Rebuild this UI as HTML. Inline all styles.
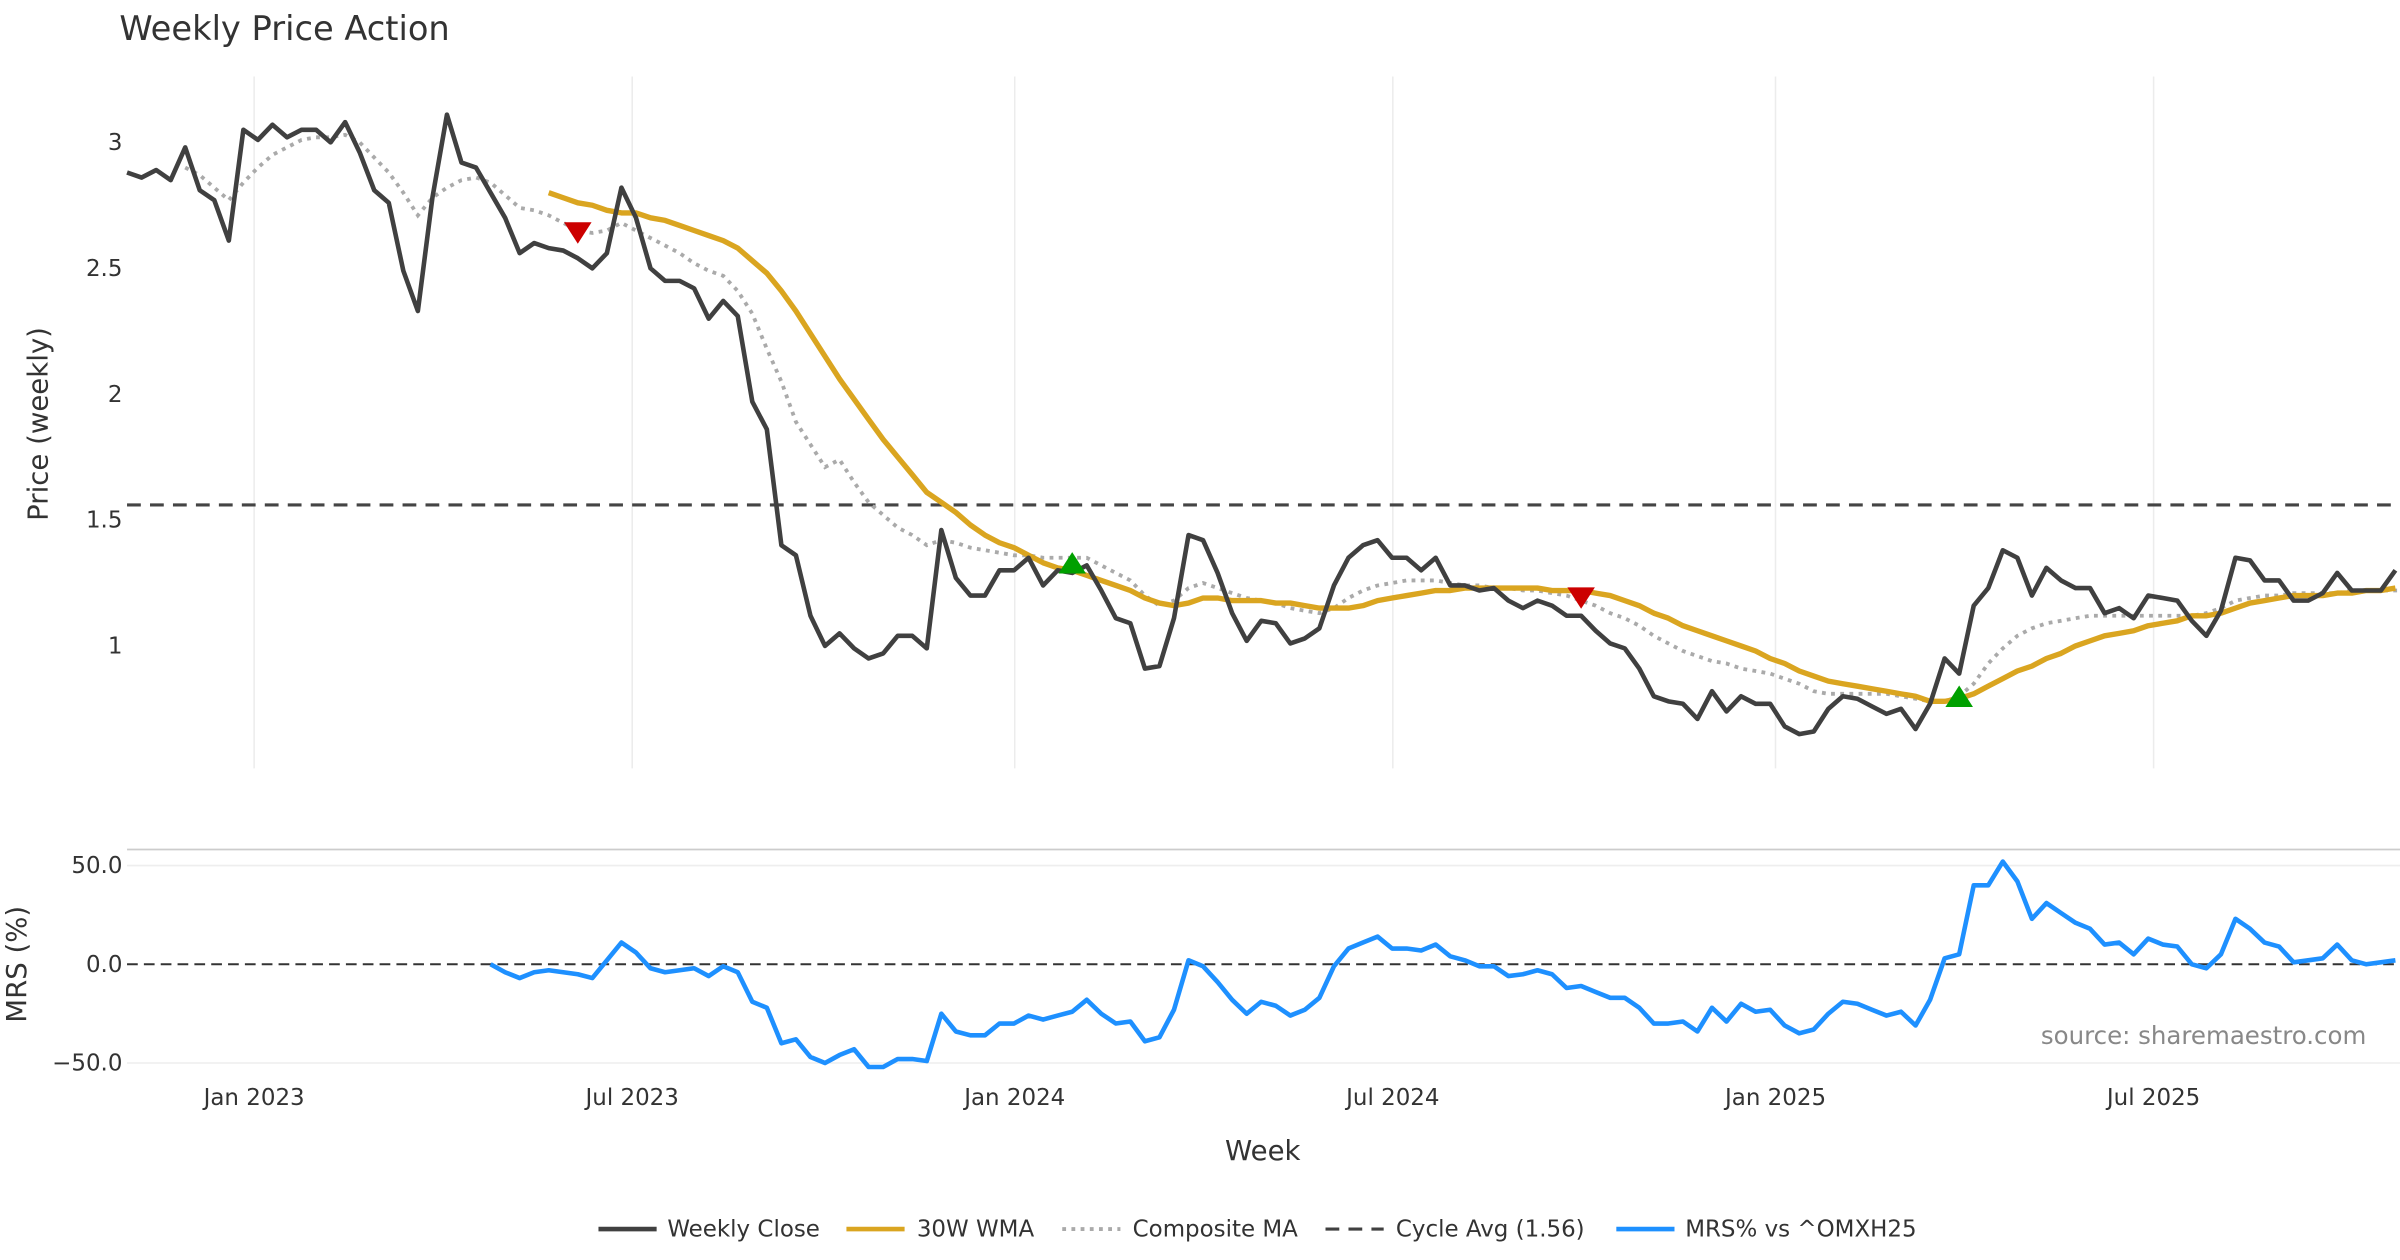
<!DOCTYPE html>
<html><head><meta charset="utf-8"><style>
html,body{margin:0;padding:0;background:#fff}
svg{display:block}
text{font-family:"DejaVu Sans","Liberation Sans",sans-serif}
</style></head><body>
<svg id="chart" width="2400" height="1260" viewBox="0 0 1568 823.2" xmlns="http://www.w3.org/2000/svg">
<text x="78" y="26" font-size="22" fill="#333">Weekly Price Action</text>
<text transform="translate(31,277) rotate(-90)" text-anchor="middle" font-size="18" fill="#333">Price (weekly)</text>
<text transform="translate(17,630) rotate(-90)" text-anchor="middle" font-size="18" fill="#333">MRS (%)</text>
<text x="825" y="758" text-anchor="middle" font-size="18" fill="#333">Week</text>
<text x="1546" y="682" text-anchor="end" font-size="16" fill="#888">source: sharemaestro.com</text>
<g id="grid"></g><g id="marks"></g>
<g font-size="15" fill="#333">
<g><line x1="391" y1="803" x2="429" y2="803" stroke="#404040" stroke-width="3"/><text x="436" y="808">Weekly Close</text></g>
<g><line x1="553" y1="803" x2="591" y2="803" stroke="#DAA520" stroke-width="3"/><text x="599" y="808">30W WMA</text></g>
<g><line x1="694" y1="803" x2="732" y2="803" stroke="#aaa" stroke-width="2.5" stroke-dasharray="2.5,3.5"/><text x="740" y="808">Composite MA</text></g>
<g><line x1="866" y1="803" x2="904" y2="803" stroke="#404040" stroke-width="2" stroke-dasharray="9,6"/><text x="912" y="808">Cycle Avg (1.56)</text></g>
<g><line x1="1056" y1="803" x2="1094" y2="803" stroke="#1E90FF" stroke-width="3"/><text x="1101" y="808">MRS% vs ^OMXH25</text></g>
</g>
</svg>
<script>
const closes=[2.88,2.86,2.89,2.85,2.98,2.81,2.77,2.61,3.05,3.01,3.07,3.02,3.05,3.05,3.00,3.08,2.96,2.81,2.76,2.49,2.33,2.78,3.11,2.92,2.90,2.80,2.70,2.56,2.60,2.58,2.57,2.54,2.50,2.56,2.82,2.70,2.50,2.45,2.45,2.42,2.30,2.37,2.31,1.97,1.86,1.40,1.36,1.12,1.00,1.05,0.99,0.95,0.97,1.04,1.04,0.99,1.46,1.27,1.20,1.20,1.30,1.30,1.35,1.24,1.30,1.29,1.32,1.22,1.11,1.09,0.91,0.92,1.11,1.44,1.42,1.29,1.13,1.02,1.10,1.09,1.01,1.03,1.07,1.24,1.35,1.40,1.42,1.35,1.35,1.30,1.35,1.24,1.24,1.22,1.23,1.18,1.15,1.18,1.16,1.12,1.12,1.06,1.01,0.99,0.91,0.80,0.78,0.77,0.71,0.82,0.74,0.80,0.77,0.77,0.68,0.65,0.66,0.75,0.80,0.79,0.76,0.73,0.75,0.67,0.77,0.95,0.89,1.16,1.23,1.38,1.35,1.20,1.31,1.26,1.23,1.23,1.13,1.15,1.11,1.20,1.19,1.18,1.10,1.04,1.14,1.35,1.34,1.26,1.26,1.18,1.18,1.21,1.29,1.22,1.22,1.22,1.30];
const wmaStart=29;
const wma=[2.80,2.78,2.76,2.75,2.73,2.72,2.72,2.70,2.69,2.67,2.65,2.63,2.61,2.58,2.53,2.48,2.41,2.33,2.24,2.15,2.06,1.98,1.90,1.82,1.75,1.68,1.61,1.57,1.53,1.48,1.44,1.41,1.39,1.36,1.33,1.31,1.30,1.28,1.26,1.24,1.22,1.19,1.17,1.16,1.17,1.19,1.19,1.18,1.18,1.18,1.17,1.17,1.16,1.15,1.15,1.15,1.16,1.18,1.19,1.20,1.21,1.22,1.22,1.23,1.23,1.23,1.23,1.23,1.23,1.22,1.22,1.22,1.21,1.20,1.18,1.16,1.13,1.11,1.08,1.06,1.04,1.02,1.00,0.98,0.95,0.93,0.90,0.88,0.86,0.85,0.84,0.83,0.82,0.81,0.80,0.78,0.78,0.79,0.81,0.84,0.87,0.90,0.92,0.95,0.97,1.00,1.02,1.04,1.05,1.06,1.08,1.09,1.10,1.12,1.12,1.13,1.15,1.17,1.18,1.19,1.20,1.20,1.20,1.21,1.21,1.22,1.22,1.23];
const compStart=4;
const composite=[2.90,2.87,2.82,2.77,2.84,2.90,2.95,2.98,3.01,3.02,3.02,3.03,3.00,2.94,2.88,2.80,2.71,2.78,2.82,2.85,2.86,2.84,2.79,2.74,2.73,2.71,2.68,2.65,2.64,2.65,2.68,2.65,2.62,2.59,2.56,2.52,2.49,2.47,2.41,2.32,2.18,2.05,1.89,1.80,1.71,1.74,1.65,1.57,1.52,1.47,1.44,1.40,1.42,1.41,1.39,1.38,1.37,1.36,1.36,1.35,1.35,1.35,1.35,1.32,1.29,1.26,1.20,1.16,1.18,1.23,1.25,1.23,1.21,1.19,1.18,1.17,1.15,1.14,1.13,1.15,1.19,1.22,1.24,1.25,1.26,1.26,1.26,1.25,1.24,1.24,1.23,1.23,1.22,1.22,1.21,1.20,1.18,1.16,1.13,1.11,1.08,1.04,1.01,0.98,0.96,0.94,0.93,0.91,0.90,0.89,0.87,0.85,0.82,0.81,0.81,0.81,0.81,0.81,0.80,0.79,0.78,0.78,0.80,0.85,0.93,0.99,1.04,1.07,1.09,1.10,1.11,1.12,1.12,1.12,1.12,1.12,1.12,1.12,1.12,1.13,1.15,1.18,1.19,1.20,1.20,1.21,1.21,1.21,1.21,1.22,1.22,1.22,1.22,1.22];
const mrsStart=25;
const mrs=[0,-4,-7,-4,-3,-4,-5,-7,2,11,6,-2,-4,-3,-2,-6,-1,-4,-19,-22,-40,-38,-47,-50,-46,-43,-52,-52,-48,-48,-49,-25,-34,-36,-36,-30,-30,-26,-28,-26,-24,-18,-25,-30,-29,-39,-37,-23,2,-1,-9,-18,-25,-19,-21,-26,-23,-17,-1,8,11,14,8,8,7,10,4,2,-1,-1,-6,-5,-3,-5,-12,-11,-14,-17,-17,-22,-30,-30,-29,-34,-22,-29,-20,-24,-23,-31,-35,-33,-25,-19,-20,-23,-26,-24,-31,-18,3,5,40,40,52,42,23,31,26,21,18,10,11,5,13,10,9,0,-2,5,23,18,11,9,1,2,3,10,2,0,1,2];
const cycleAvg=[1.56];
const signalIdx=[31,65,100,126];
const signalVal=[2.64,1.33,1.19,0.80];
const signalType=["sell","buy","sell","buy"];
const priceTicks=[1,1.5,2,2.5,3];
const priceTickLabels=["1","1.5","2","2.5","3"];
const mrsTicks=[-50,0,50];
const mrsTickLabels=["−50.0","0.0","50.0"];
const xTickWeeks=[8.74,34.74,61.05,87.05,113.37,139.37];
const xTickLabels=["Jan 2023","Jul 2023","Jan 2024","Jul 2024","Jan 2025","Jul 2025"];

const NS="http://www.w3.org/2000/svg";
const xs=i=>83+9.5*i;
const yp=v=>93+(3-v)*164.5;
const ym=v=>630-v*1.29;
function mk(tag,attrs,parent){const e=document.createElementNS(NS,tag);for(const k in attrs)e.setAttribute(k,attrs[k]);parent.appendChild(e);return e;}
const grid=document.getElementById('grid'),marks=document.getElementById('marks');
xTickWeeks.forEach((w,k)=>{
  const l=mk('line',{x1:xs(w),x2:xs(w),y1:50,y2:502,stroke:'#ececec','stroke-width':1},grid);
  
  
  const t=mk('text',{x:xs(w),y:722,'text-anchor':'middle','font-size':15,fill:'#333'},grid);t.textContent=xTickLabels[k];
  
  
});
priceTicks.forEach((v,k)=>{
  const t=mk('text',{x:80,y:yp(v)+5,'text-anchor':'end','font-size':15,fill:'#333'},grid);t.textContent=priceTickLabels[k];
  
  
});
const sep=mk('line',{x1:83,x2:1568,y1:555,y2:555,stroke:'#ccc','stroke-width':1.2},grid);


mrsTicks.forEach((v,k)=>{
  if(v!==0){const g=mk('line',{x1:83,x2:1568,y1:ym(v),y2:ym(v),stroke:'#eee','stroke-width':1},grid);
  
  }
  const t=mk('text',{x:80,y:ym(v)+5,'text-anchor':'end','font-size':15,fill:'#333'},grid);t.textContent=mrsTickLabels[k];
  
  
});
function path(arr,start,yf){return arr.map((v,i)=>(i?'L':'M')+xs(i+start).toFixed(1)+','+yf(v).toFixed(1)).join('');}
const cy=mk('line',{x1:83,x2:1568,y1:yp(cycleAvg[0]),y2:yp(cycleAvg[0]),stroke:'#444','stroke-width':2,'stroke-dasharray':'9,6'},marks);


const z=mk('line',{x1:83,x2:1568,y1:ym(0),y2:ym(0),stroke:'#333','stroke-width':1.3,'stroke-dasharray':'7,4'},marks);


const pc=mk('path',{d:path(composite,compStart,yp),fill:'none',stroke:'#aaa','stroke-width':2.5,'stroke-dasharray':'2.5,3.5'},marks);


const pw=mk('path',{d:path(wma,wmaStart,yp),fill:'none',stroke:'#DAA520','stroke-width':3.5,'stroke-linejoin':'round'},marks);


const pcl=mk('path',{d:path(closes,0,yp),fill:'none',stroke:'#404040','stroke-width':3,'stroke-linejoin':'round'},marks);


const pm=mk('path',{d:path(mrs,mrsStart,ym),fill:'none',stroke:'#1E90FF','stroke-width':3,'stroke-linejoin':'round'},marks);


signalIdx.forEach((i,k)=>{
  const x=xs(i),y=yp(signalVal[k]);
  const d=signalType[k]==='sell'?`M${x-9},${y-7}L${x+9},${y-7}L${x},${y+7}Z`:`M${x-9},${y+7}L${x+9},${y+7}L${x},${y-7}Z`;
  const m=mk('path',{d:d,fill:signalType[k]==='sell'?'#CC0000':'#00A000'},marks);
  
  
});
</script>
</body></html>
